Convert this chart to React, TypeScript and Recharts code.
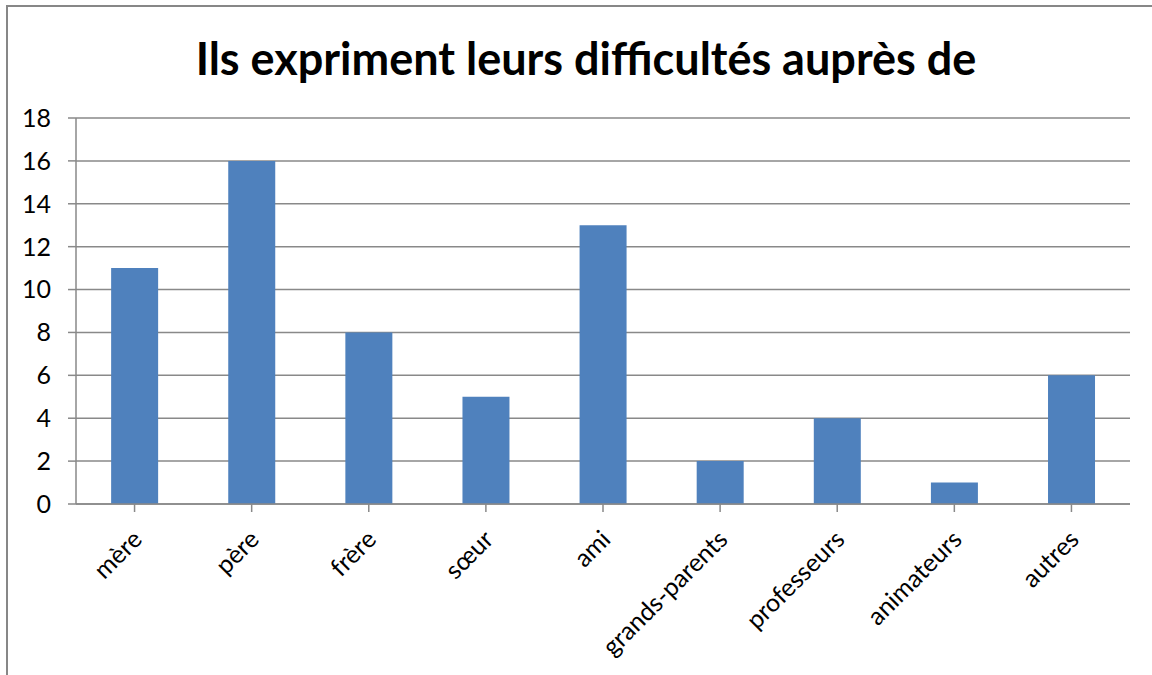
import React from "react";
import { BarChart, Bar, XAxis, YAxis, CartesianGrid } from "recharts";

const categories = ["mère", "père", "frère", "sœur", "ami", "grands-parents", "professeurs", "animateurs", "autres"];
const values = [11, 16, 8, 5, 13, 2, 4, 1, 6];
const yTicks = [0, 2, 4, 6, 8, 10, 12, 14, 16, 18];
const title = "Ils expriment leurs difficultés auprès de";

const data = categories.map((c, i) => ({ name: c, value: values[i] }));

const FONT = "Lato, 'Open Sans', sans-serif";
const GRID = "#898989";

const XTick = (props: any) => {
  const { x, y, payload } = props;
  const tx = x + 9;
  const ty = y + 27;
  return (
    <text
      x={tx}
      y={ty}
      transform={`rotate(-45, ${tx}, ${ty})`}
      textAnchor="end"
      fontSize={25}
      fontFamily={FONT}
      fill="#000"
    >
      {payload.value}
    </text>
  );
};

export default function App() {
  return (
    <div style={{ position: "absolute", left: 0, top: 0, width: 1152, height: 675, background: "#fff", overflow: "hidden" }}>
      <div
        style={{
          position: "absolute",
          left: 6,
          top: 5,
          width: 1160,
          height: 700,
          border: "2px solid #878787",
          boxSizing: "border-box",
        }}
      />
      <div
        style={{
          position: "absolute",
          left: 10,
          width: 1152,
          top: 26,
          textAlign: "center",
          fontFamily: FONT,
          fontWeight: 700,
          fontSize: 45,
          color: "#000",
          lineHeight: "64px",
        }}
      >
        {title}
      </div>
      <div style={{ position: "absolute", left: 0, top: 0 }}>
        <BarChart
          width={1152}
          height={675}
          data={data}
          margin={{ top: 118, right: 22, left: 16, bottom: 11 }}
          barCategoryGap="30%"
        >
          <CartesianGrid vertical={false} stroke={GRID} strokeWidth={1.5} />
          <XAxis
            dataKey="name"
            interval={0}
            height={160}
            tick={<XTick />}
            axisLine={{ stroke: GRID, strokeWidth: 1.5 }}
            tickLine={{ stroke: GRID, strokeWidth: 1.5 }}
            tickSize={8}
            scale="band"
          />
          <YAxis
            width={60}
            domain={[0, 18]}
            ticks={yTicks}
            interval={0}
            axisLine={{ stroke: GRID, strokeWidth: 1.5 }}
            tickLine={{ stroke: GRID, strokeWidth: 1.5 }}
            tickSize={8}
            tickMargin={17}
            tick={{ fontSize: 25, fontFamily: FONT, fill: "#000" }}
          />
          <Bar dataKey="value" fill="#4F81BD" isAnimationActive={false} />
        </BarChart>
      </div>
    </div>
  );
}
